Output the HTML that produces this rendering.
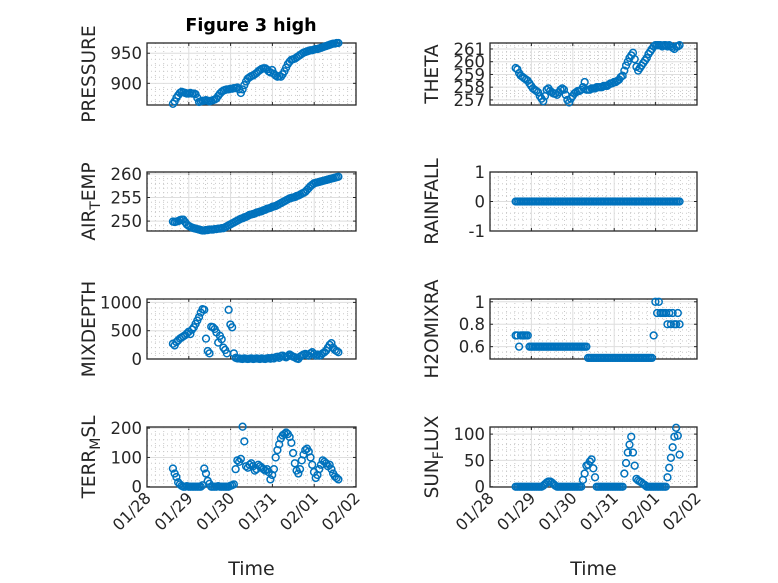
<!DOCTYPE html>
<html><head><meta charset="utf-8"><style>
html,body{margin:0;padding:0;background:#fff;}
svg{display:block;font-family:"DejaVu Sans","Liberation Sans",sans-serif;}
</style></head><body>
<svg id="fig" width="778" height="583" viewBox="0 0 778 583" xmlns="http://www.w3.org/2000/svg">
<rect x="0" y="0" width="778" height="583" fill="#ffffff"/>
<text x="251" y="31" text-anchor="middle" font-size="17.5" font-weight="bold" fill="#000">Figure 3 high</text>
</svg>
<script>
// shared time axis: hourly samples starting at day offset (days after 01/28 00:00)
const startDay = 0.62;
const stepHours = 1;
const xTickLabels = ["01/28","01/29","01/30","01/31","02/01","02/02"];

const pressure = [866,870,876,880,884,886, 885,884,883,883,884,883,883,882, 876,869,
870,871,871,872,871,870,871,872,873,875, 879,883,886,888, 889,890,890,891,891,892,892,893,
890,884,890, 897,903,908, 910,912,913,915,917,920,922,924,925,
925,923,920,918,922,916,913,911,912,911, 915,920,926,932,936,939,
940,941,943,945,947,949,951,952,953, 954,955,955,956,957,957,958,959,960,961,962,963,964,965,
966,966,967,967];
const theta = [259.5,259.4,259.1,258.9,258.8,258.7,258.6,258.5, 258.3,258.1,257.9,257.8,257.7,257.6,
257.3,257.1,256.9, 257.3,257.8,257.9, 257.7,257.6,257.5,257.5,257.4, 257.6,257.8,257.9,257.8,
257.4,257.0,256.8, 257.1,257.3,257.5,257.6,257.7,257.7, 257.8,258.0,258.4,
257.8,257.8,257.8,257.9,257.9,257.9,258.0, 258.0,258.0,258.0,258.1,258.1,258.1,258.2,258.3,
258.3,258.4,258.4,258.5,258.6,258.8,258.9, 259.3,259.7,260.0,260.3,260.5,260.7,
260.2,259.6,259.3, 259.5,259.7,259.9,260.1,260.3, 260.6,260.8,261.0,261.2,261.3,
261.3,261.3,261.3,261.2,261.3,261.3,261.2,261.3,261.2,261.1,261.0,261.2,261.2,261.3];
const airTemp = [249.9,249.8,249.9,250.0,250.2,250.3,250.3,
249.8,249.3,249.0,248.8,248.6,248.5,248.4,248.3,248.2,248.1,248.0,
248.0,248.1,248.1,248.2,248.2,248.2,248.3,248.3,248.4,248.4,248.5,248.5,
248.7,248.9,249.1,249.3,249.5,249.7,249.9,250.1,250.3,
250.5,250.6,250.8,250.9,251.1,251.3, 251.4,251.5,251.6,251.8,251.9,252.0,252.1,252.3,
252.4,252.6,252.7,252.8,253.0,253.1,253.2,253.4, 253.6,253.8,254.0,254.2,254.4,254.6,254.8,
254.9,255.0,255.1,255.3,255.4,255.6,255.8,256.0,256.2, 256.6,257.0,257.4,257.7,258.0,
258.1,258.2,258.3,258.4,258.5,258.6,258.7, 258.8,258.9,259.0,259.1,259.2,259.3,259.4];
const rainfall = [0,0,0,0,0,0,0,0,0,0,0,0,0,0,0,0,0,0,0,0,0,0,0,0,0,0,0,0,0,0,0,0,
0,0,0,0,0,0,0,0,0,0,0,0,0,0,0,0,0,0,0,0,0,0,0,0,0,0,0,0,0,0,0,0,
0,0,0,0,0,0,0,0,0,0,0,0,0,0,0,0,0,0,0,0,0,0,0,0,0,0,0,0,0,0,0,0];
const mixDepth = [270,240,300,330,360,380,400,420,450,480,440,520,560,620,680,740,820,880,
870,360,140,100,570,560,530,470,290,410,350,200,160,100,870,610,560,100,
20,10, 10,5,0,10,5,0,5,10,0,5,10,5,0,10,5,0,10,15,5,
20,10,30,40,20,50,60,40,30,50,80,60,40,30,
10,0,40,60,80,90,70,60,100,120,90,60,80,60,70,
100,120,150,200,250,280,200,160,140,120];
const h2oMixRa = [0.7,0.7,0.6,0.7,0.7,0.7,0.7,0.7,0.6,
0.6,0.6,0.6,0.6,0.6,0.6,0.6,0.6,0.6,0.6,0.6,0.6,0.6,0.6,0.6,0.6,0.6,0.6,0.6,0.6,0.6,0.6,0.6,0.6,0.6,0.6,0.6,0.6,0.6,0.6,0.6,0.6,0.6,
0.5,0.5,0.5,0.5,0.5,0.5,0.5,0.5,0.5,0.5,0.5,0.5,0.5,0.5,0.5,0.5,0.5,0.5,0.5,0.5,0.5,0.5,0.5,0.5,0.5,0.5,0.5,0.5,0.5,0.5,0.5,0.5,0.5,0.5,0.5,0.5,0.5,0.5,
0.7, 1.0,0.9,1.0,0.9,0.9,0.9,0.9,0.8,0.9,0.8,0.9,0.8,0.8,0.9,0.8];
const terrMsl = [62,45,33,15,8, 3,0,0,2,0,0,0,0,0,0,0,0,5, 62,45,20,10,
0,0,0,0,2,0,0,0,0,0,0,3,5,8, 60,90,85,95,205,
155,70,65,75,80,70,55,60,75,70,65,60,55,60,50,
25,40,60,100,125,145,165,175,180,185,
180,170,150,115,80,55,45,60,90,110,125,130,120,
100,75,50,30,40,60,75,90,85,80,70,75,60,45,35,30,25];
const sunFlux = [0,0,0,0,0,0,0,0,0,0,0,0,0,0,0,0, 2,5,8,10,10,8,5,2,
0,0,0,0,0,0,0,0,0,0,0,0,0,0,0, 13,25,40,42,48,52,35,18,0,
0,0,0,0,0,0,0,0,0,0,0,0,0,0,0, 25,45,65,80,95,65,40,15,12,10,
8,5,3,0,0,0, 0,0,0,0,0,0,0,0,0, 18,36,55,75,95,112,97,61];

const pressureTicks = [900,950];
const thetaTicks = [257,258,259,260,261];
const airTicks = [250,255,260];
const rainTicks = [-1,0,1];
const mixTicks = [0,500,1000];
const h2oTicks = [0.6,0.8,1];
const terrTicks = [0,100,200];
const sunTicks = [0,50,100];

const NS = "http://www.w3.org/2000/svg";
const svg = document.getElementById("fig");
const BLUE = "#0072BD";
const AX = "#262626";
function mk(tag, attrs, parent){
  const e = document.createElementNS(NS, tag);
  for (const k in attrs) e.setAttribute(k, attrs[k]);
  (parent||svg).appendChild(e);
  return e;
}
const panels = [
  {key:"pressure", vals:pressure, ticks:pressureTicks, ylim:[864,967], minor:10, x0:147,x1:356,y0:43,y1:105, label:["PRESSURE"], xl:false},
  {key:"theta", vals:theta, ticks:thetaTicks, ylim:[256.6,261.47], minor:0.25, x0:490,x1:697,y0:43,y1:105, label:["THETA"], xl:false},
  {key:"air-temp", vals:airTemp, ticks:airTicks, ylim:[247.9,260.4], minor:1, x0:147,x1:356,y0:172,y1:231, label:["AIR","T","EMP"], xl:false},
  {key:"rainfall", vals:rainfall, ticks:rainTicks, ylim:[-1,1], minor:0.2, x0:490,x1:697,y0:172,y1:231, label:["RAINFALL"], xl:false},
  {key:"mixdepth", vals:mixDepth, ticks:mixTicks, ylim:[0,1060], minor:100, x0:147,x1:356,y0:299,y1:359, label:["MIXDEPTH"], xl:false},
  {key:"h2omixra", vals:h2oMixRa, ticks:h2oTicks, ylim:[0.49,1.025], minor:0.05, x0:490,x1:697,y0:299,y1:359, label:["H2OMIXRA"], xl:false},
  {key:"terr-msl", vals:terrMsl, ticks:terrTicks, ylim:[-1,204], minor:20, x0:147,x1:356,y0:427,y1:487, label:["TERR","M","SL"], xl:true},
  {key:"sun-flux", vals:sunFlux, ticks:sunTicks, ylim:[-0.5,113.5], minor:10, x0:490,x1:697,y0:427,y1:487, label:["SUN","F","LUX"], xl:true}
];
panels.forEach(p=>{
  const g = mk("g",{});
  
  
  const xs = d => p.x0 + (d/5)*(p.x1-p.x0);
  const ys = v => p.y1 - (v-p.ylim[0])/(p.ylim[1]-p.ylim[0])*(p.y1-p.y0);
  for (let d=0; d<5; d++) for (let k=1;k<5;k++){
    const x = xs(d+k/5);
    mk("line",{x1:x,x2:x,y1:p.y0,y2:p.y1,stroke:"#c8c8c8","stroke-width":1,"stroke-dasharray":"1,3"},g);
  }
  const startM = Math.ceil(p.ylim[0]/p.minor);
  for (let m=startM; m*p.minor<=p.ylim[1]; m++){
    const v = m*p.minor;
    if (p.ticks.some(t=>Math.abs(t-v)<1e-9)) continue;
    const y = ys(v);
    mk("line",{x1:p.x0,x2:p.x1,y1:y,y2:y,stroke:"#c8c8c8","stroke-width":1,"stroke-dasharray":"1,3"},g);
  }
  xTickLabels.forEach((lab,d)=>{
    const x = xs(d);
    if (d>0 && d<5) mk("line",{x1:x,x2:x,y1:p.y0,y2:p.y1,stroke:"#dedede","stroke-width":1},g);
    mk("line",{x1:x,x2:x,y1:p.y1,y2:p.y1-3,stroke:AX,"stroke-width":1},g);
    mk("line",{x1:x,x2:x,y1:p.y0,y2:p.y0+3,stroke:AX,"stroke-width":1},g);
    if (p.xl){
      const t = mk("text",{transform:`translate(${x+5},${p.y1+12}) rotate(-45)`,"text-anchor":"end","font-size":16,fill:AX},g);
      
      
      t.textContent = lab;
    }
  });
  p.ticks.forEach(v=>{
    const y = ys(v);
    if (y>p.y0+0.5 && y<p.y1-0.5) mk("line",{x1:p.x0,x2:p.x1,y1:y,y2:y,stroke:"#dedede","stroke-width":1},g);
    mk("line",{x1:p.x0,x2:p.x0+3,y1:y,y2:y,stroke:AX,"stroke-width":1},g);
    mk("line",{x1:p.x1,x2:p.x1-3,y1:y,y2:y,stroke:AX,"stroke-width":1},g);
    const t = mk("text",{x:p.x0-5,y:y+6,"text-anchor":"end","font-size":16.5,fill:AX},g);
    
    
    t.textContent = String(v);
  });
  const box = mk("rect",{x:p.x0,y:p.y0,width:p.x1-p.x0,height:p.y1-p.y0,fill:"none",stroke:AX,"stroke-width":1.3},g);
  
  
  p.vals.forEach((v,i)=>{
    const d = startDay + i*stepHours/24;
    const c = mk("circle",{cx:xs(d),cy:ys(v),r:3.4,fill:"none",stroke:BLUE,"stroke-width":1.5},g);
    
    
  });
  const lx = p.x0 - 52;
  const lt = mk("text",{transform:`translate(${lx},${(p.y0+p.y1)/2}) rotate(-90)`,"text-anchor":"middle","font-size":18.5,fill:AX},g);
  
  
  if (p.label.length===1){ lt.textContent = p.label[0]; }
  else {
    const a = mk("tspan",{},lt); a.textContent = p.label[0];
    const b = mk("tspan",{dy:5,"font-size":14},lt); b.textContent = p.label[1];
    const c = mk("tspan",{dy:-5},lt); c.textContent = p.label[2];
  }
  if (p.xl){
    const xt = mk("text",{x:(p.x0+p.x1)/2,y:575,"text-anchor":"middle","font-size":19,fill:AX},g);
    
    
    xt.textContent = "Time";
  }
});
</script>
</body></html>
